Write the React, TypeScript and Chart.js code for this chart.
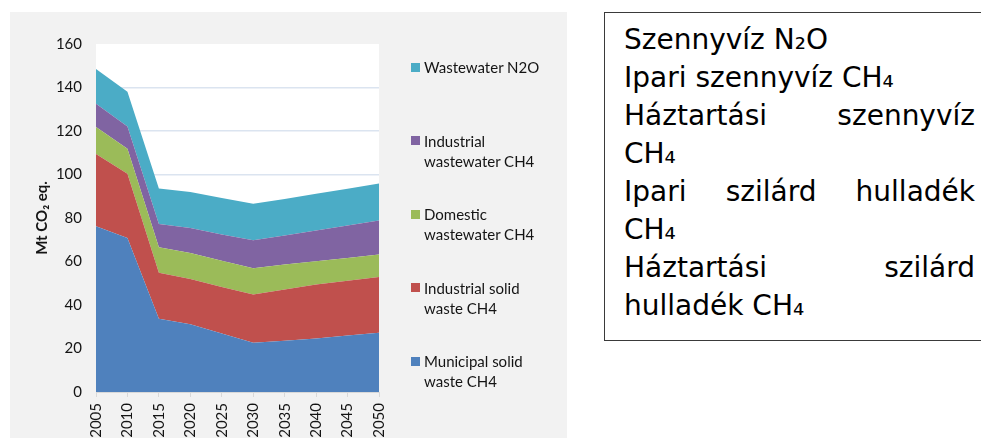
import React, { useEffect, useRef } from "react";
import { Chart, registerables } from "chart.js";

Chart.register(...registerables);

// ---- data ----
const years = ["2005", "2010", "2015", "2020", "2025", "2030", "2035", "2040", "2045", "2050"];
const municipalSolidWaste = [76.2, 70.8, 33.7, 31.1, 26.9, 22.6, 23.6, 24.6, 26.0, 27.2];
const industrialSolidWaste = [33.2, 29.5, 21.1, 20.9, 21.4, 22.2, 23.5, 24.8, 25.2, 25.7];
const domesticWastewater = [12.4, 11.5, 11.7, 11.9, 12.1, 12.1, 11.5, 10.7, 10.4, 10.3];
const industrialWastewater = [10.7, 10.3, 10.7, 11.5, 12.0, 12.9, 13.3, 14.2, 15.0, 15.6];
const wastewaterN2O = [16.0, 16.0, 16.4, 16.5, 16.8, 16.8, 16.8, 16.9, 16.9, 17.1];

const seriesNames = [
  "Municipal solid waste CH4",
  "Industrial solid waste CH4",
  "Domestic wastewater CH4",
  "Industrial wastewater CH4",
  "Wastewater N2O",
];
const seriesColors = ["#4f81bd", "#c0504d", "#9bbb59", "#8064a2", "#4bacc6"];
const seriesValues = [
  municipalSolidWaste,
  industrialSolidWaste,
  domesticWastewater,
  industrialWastewater,
  wastewaterN2O,
];

// legend text, top to bottom
const legendLines = [
  ["Wastewater N2O"],
  ["Industrial", "wastewater CH4"],
  ["Domestic", "wastewater CH4"],
  ["Industrial solid", "waste CH4"],
  ["Municipal solid", "waste CH4"],
];
const legendColors = ["#4bacc6", "#8064a2", "#9bbb59", "#c0504d", "#4f81bd"];

const yAxisTitle = "Mt CO\u2082 eq.";
const yMin = 0;
const yMax = 160;
const yStep = 20;

// Hungarian text box lines: [text, justified]
const boxLines: [string, boolean][] = [
  ["Szennyvíz N\u2082O", false],
  ["Ipari szennyvíz CH\u2084", false],
  ["Háztartási szennyvíz", true],
  ["CH\u2084", false],
  ["Ipari szilárd hulladék", true],
  ["CH\u2084", false],
  ["Háztartási szilárd", true],
  ["hulladék CH\u2084", false],
];

const CANVAS_W = 557;
const CANVAS_H = 426;

const bgPlugin = {
  id: "bgPlugin",
  beforeDraw(chart: any) {
    const { ctx, chartArea } = chart;
    ctx.save();
    ctx.fillStyle = "#f2f2f2";
    ctx.fillRect(0, 0, chart.width, chart.height);
    ctx.fillStyle = "#ffffff";
    ctx.fillRect(chartArea.left, chartArea.top, chartArea.right - chartArea.left, chartArea.bottom - chartArea.top);
    ctx.restore();
  },
};

function AreaChart() {
  const ref = useRef<HTMLCanvasElement | null>(null);
  useEffect(() => {
    if (!ref.current) return;
    const tickFont = { family: "Lato", size: 15 };
    const chart = new Chart(ref.current, {
      type: "line",
      data: {
        labels: years,
        datasets: seriesValues.map((vals, i) => ({
          label: seriesNames[i],
          data: vals,
          backgroundColor: seriesColors[i],
          borderColor: seriesColors[i],
          borderWidth: 0,
          pointRadius: 0,
          tension: 0,
          fill: i === 0 ? "origin" : "-1",
        })),
      },
      options: {
        animation: false,
        responsive: false,
        maintainAspectRatio: false,
        layout: { padding: { left: 0, right: CANVAS_W - 369, top: 32, bottom: 0 } },
        plugins: { legend: { display: false }, tooltip: { enabled: false } },
        scales: {
          x: {
            offset: false,
            grid: { drawOnChartArea: false, drawTicks: true, tickLength: 5, color: "#d9d9d9" },
            border: { color: "#d9d9d9" },
            ticks: {
              minRotation: 90,
              maxRotation: 90,
              autoSkip: false,
              padding: 6,
              font: tickFont,
              color: "#141414",
            },
            afterFit: (s: any) => {
              s.height = CANVAS_H - 380;
            },
          },
          y: {
            stacked: true,
            min: yMin,
            max: yMax,
            ticks: { stepSize: yStep, padding: 14, font: tickFont, color: "#141414" },
            grid: {
              drawTicks: false,
              color: (c: any) =>
                c.tick && (c.tick.value === yMin || c.tick.value === yMax) ? "rgba(0,0,0,0)" : "#dbe4f0",
              lineWidth: 1.5,
            },
            border: { display: false },
            title: {
              display: true,
              text: yAxisTitle,
              font: { family: "Lato", size: 15, weight: "bold" },
              color: "#141414",
              padding: { top: 23, bottom: 0 },
            },
            afterFit: (s: any) => {
              s.width = 86;
            },
          },
        },
      },
      plugins: [bgPlugin],
    } as any);
    return () => chart.destroy();
  }, []);
  return <canvas ref={ref} width={CANVAS_W} height={CANVAS_H} style={{ display: "block", width: CANVAS_W, height: CANVAS_H }} />;
}

export default function App() {
  return (
    <div
      style={{
        position: "absolute",
        left: 0,
        top: 0,
        width: 981,
        height: 439,
        overflow: "hidden",
        background: "#ffffff",
      }}
    >
      <div style={{ position: "absolute", left: 10, top: 12 }}>
        <AreaChart />
      </div>
      {legendLines.map((lines, i) => (
        <div
          key={i}
          style={{
            position: "absolute",
            left: 411,
            top: 57 + i * 73.6,
            display: "flex",
            alignItems: "flex-start",
            fontFamily: "Lato",
            fontSize: 15,
            lineHeight: "20px",
            color: "#141414",
          }}
        >
          <div style={{ width: 9, height: 9, marginTop: 5.5, marginRight: 4, background: legendColors[i] }} />
          <div>
            {lines.map((t, j) => (
              <div key={j} style={{ whiteSpace: "nowrap" }}>
                {t}
              </div>
            ))}
          </div>
        </div>
      ))}
      <div
        style={{
          position: "absolute",
          left: 604,
          top: 12,
          width: 390,
          height: 329,
          boxSizing: "border-box",
          border: "1px solid #3a3a3a",
          paddingTop: 8,
          paddingLeft: 19,
          fontFamily: "'DejaVu Sans'",
          fontSize: 28,
          lineHeight: "38px",
          color: "#000",
        }}
      >
        {boxLines.map(([t, just], i) => (
          <div
            key={i}
            style={{
              width: 351,
              whiteSpace: "nowrap",
              textAlign: just ? "justify" : "left",
              textAlignLast: just ? "justify" : "left",
            } as any}
          >
            {t}
          </div>
        ))}
      </div>
    </div>
  );
}
